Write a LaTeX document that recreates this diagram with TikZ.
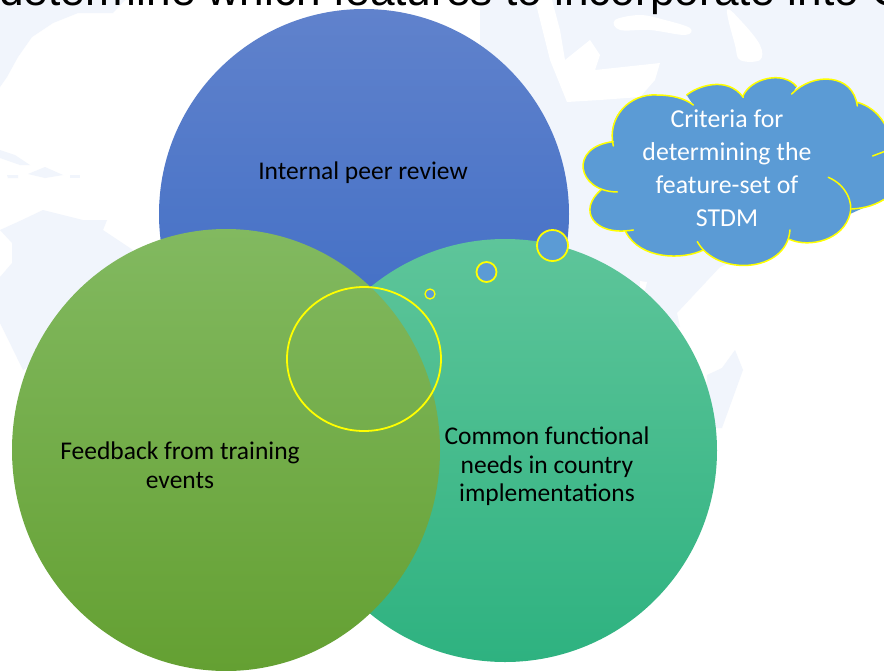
\documentclass[tikz,border=0pt]{standalone}
\usepackage{fontspec}
\setmainfont{Carlito}
\newfontfamily\titlefont{Liberation Sans}
\usetikzlibrary{shapes.geometric}
\definecolor{mapc}{HTML}{F1F5FC}
\definecolor{cloudc}{HTML}{5B9BD5}
\definecolor{ringc}{HTML}{FFFF00}
\tikzset{
  landmass/.style={fill=mapc,draw=none},
  seaarea/.style={fill=white,draw=none},
  bigdisc/.style={ellipse,inner sep=0pt,draw=none},
  lab/.style={font=\fontsize{25.5}{28.5}\selectfont,align=center,text=black,inner sep=0pt},
  cloudlab/.style={font=\fontsize{25.8}{33}\selectfont,align=center,text=white,inner sep=0pt},
  ring/.style={ellipse,inner sep=0pt,draw=ringc,line width=1.8pt},
  bubble/.style={ring,fill=cloudc},
  cloudedge/.style={draw=ringc,line width=1.5pt,line cap=round},
}
\begin{document}
\begin{tikzpicture}[x=1pt,y=-1pt]
\useasboundingbox (0,0) rectangle (884,670);
\clip (0,0) rectangle (884,670);
\fill[white] (0,0) rectangle (884,670);
% faint world map: Americas
\fill[landmass] (0,0) -- (125,0) -- (113,13) -- (78,13) -- (53,23) -- (32,37) -- (18,57) -- (7,77) -- (0,87) -- cycle;
\fill[landmass] (0,150) -- (15,155) -- (30,165) -- (20,165) -- (0,158) -- cycle;
\fill[landmass] (28,174) -- (45,167) -- (63,175) -- (45,178) -- cycle;
\fill[landmass] (7,175) -- (18,175) -- (18,178) -- (8,178) -- cycle;
\fill[landmass] (70,175) -- (80,175) -- (80,178) -- (70,178) -- cycle;
\fill[landmass] (0,277) -- (12,263) -- (12,243) -- (0,230) -- (22,220) -- (43,210) -- (55,213) -- (83,220) -- (107,220) -- (103,230) -- (133,250) -- (60,350) -- (23,370) -- (0,323) -- cycle;
% faint world map: Eurasia and Africa
\fill[landmass] (480,0) -- (884,0) -- (884,198) -- (720,267) -- (677,313) -- (680,327) -- (640,330) -- (540,260) -- (480,100) -- cycle;
\fill[seaarea] (535,0) -- (552,0) -- (560,30) -- (565,60) -- (590,40) -- (600,55) -- (595,70) -- (660,63) -- (655,80) -- (640,97) -- (600,100) -- (567,102) -- (550,60) -- cycle;
\fill[seaarea] plot[smooth cycle,tension=.6] coordinates {(615,20) (640,15) (665,20) (690,28) (685,35) (650,30) (620,30)};
\fill[seaarea] plot[smooth cycle,tension=.6] coordinates {(727,10) (742,22) (760,45) (760,60) (740,60) (735,45)};
\fill[seaarea] (640,281) -- (647,282) -- (645,290) -- (640,288) -- cycle;
\fill[landmass] (707,375) -- (722,368) -- (735,350) -- (743,370) -- (722,428) -- (705,428) -- cycle;
% title
\node[anchor=base west,inner sep=0pt,text=black] (title) at (-1,5.5) {\titlefont\fontsize{44.2}{50}\selectfont determine which features to incorporate into C};
% discs
\node[bigdisc,minimum width=410pt,minimum height=410pt,top color={rgb,255:red,96;green,130;blue,204},middle color={rgb,255:red,60;green,108;blue,200},bottom color={rgb,255:red,58;green,106;blue,196}] (peer) at (364,214) {};
\node[bigdisc,minimum width=424pt,minimum height=423pt,top color={rgb,255:red,94;green,197;blue,154},middle color={rgb,255:red,64;green,194;blue,145},bottom color={rgb,255:red,46;green,178;blue,128}] (needs) at (505,450.5) {};
\node[bigdisc,minimum width=428pt,minimum height=442pt,top color={rgb,255:red,130;green,185;blue,96},middle color={rgb,255:red,114;green,178;blue,70},bottom color={rgb,255:red,100;green,160;blue,50}] (feedback) at (226,450) {};
% labels
\node[lab] (peerlab) at (363,173) {Internal peer review};
\node[lab] (feedlab) at (180,465) {Feedback from training\\events};
\node[lab] (needlab) at (547,466.5) {Common functional\\needs in country\\implementations};
% thought bubbles
\node[ring,minimum width=154pt,minimum height=144pt] (focus) at (364,359) {};
\node[bubble,minimum width=10pt,minimum height=10pt,line width=1.3pt] (bub1) at (430,294) {};
\node[bubble,minimum width=20pt,minimum height=20pt] (bub2) at (486.5,272) {};
\node[bubble,minimum width=31pt,minimum height=31pt] (bub3) at (552.5,245.5) {};
% cloud
\begin{scope}[shift={(560,60)},x=.3333pt,y=-.3333pt]
\path[fill=cloudc]
 (160,245) .. controls (140,170) and (210,100) .. (290,105)
 .. controls (335,105) and (375,115) .. (400,135)
 -- (380,105) .. controls (410,80) and (500,45) .. (550,112)
 -- (548,110) .. controls (570,55) and (670,30) .. (710,80)
 -- (695,102) .. controls (760,35) and (880,40) .. (892,138)
 -- (892,127) .. controls (940,140) and (975,180) .. (985,220)
 -- (985,410) .. controls (950,435) and (915,445) .. (875,447)
 -- (870,462) .. controls (850,540) and (750,565) .. (688,538)
 -- (690,510) .. controls (680,640) and (470,650) .. (412,545)
 -- (430,570) .. controls (370,600) and (240,600) .. (197,515)
 -- (220,510) .. controls (100,530) and (50,450) .. (125,388)
 -- (172,396) .. controls (50,395) and (25,260) .. (160,245) -- cycle;
\fill[cloudc] (160,245) -- (400,135) -- (550,112) -- (710,90) -- (892,138) -- (985,220) -- (985,410) -- (870,462) -- (688,538) -- (412,545) -- (197,515) -- (125,388) -- cycle;
\draw[cloudedge]
 (160,258) .. controls (140,170) and (210,100) .. (290,105)
 .. controls (335,105) and (375,115) .. (400,135);
\draw[cloudedge] (380,105) .. controls (410,80) and (500,45) .. (550,112);
\draw[cloudedge] (548,110) .. controls (570,55) and (670,30) .. (710,80);
\draw[cloudedge] (695,102) .. controls (760,35) and (880,40) .. (892,138);
\draw[cloudedge] (892,127) .. controls (940,140) and (975,180) .. (985,220);
\draw[cloudedge] (985,270) -- (938,288);
\draw[cloudedge] (985,410) .. controls (950,435) and (915,445) .. (875,447);
\draw[cloudedge] (805,352) .. controls (860,375) and (880,430) .. (870,462)
 .. controls (850,540) and (750,565) .. (688,538);
\draw[cloudedge] (690,510) .. controls (680,640) and (470,650) .. (412,545);
\draw[cloudedge] (430,570) .. controls (370,600) and (240,600) .. (197,515);
\draw[cloudedge] (220,510) .. controls (100,530) and (50,450) .. (125,388);
\draw[cloudedge] (172,396) .. controls (50,395) and (25,260) .. (160,245);
\end{scope}
\node[cloudlab] (cloudlab) at (727,168) {Criteria for\\determining the\\feature-set of\\STDM};
\end{tikzpicture}
\end{document}
